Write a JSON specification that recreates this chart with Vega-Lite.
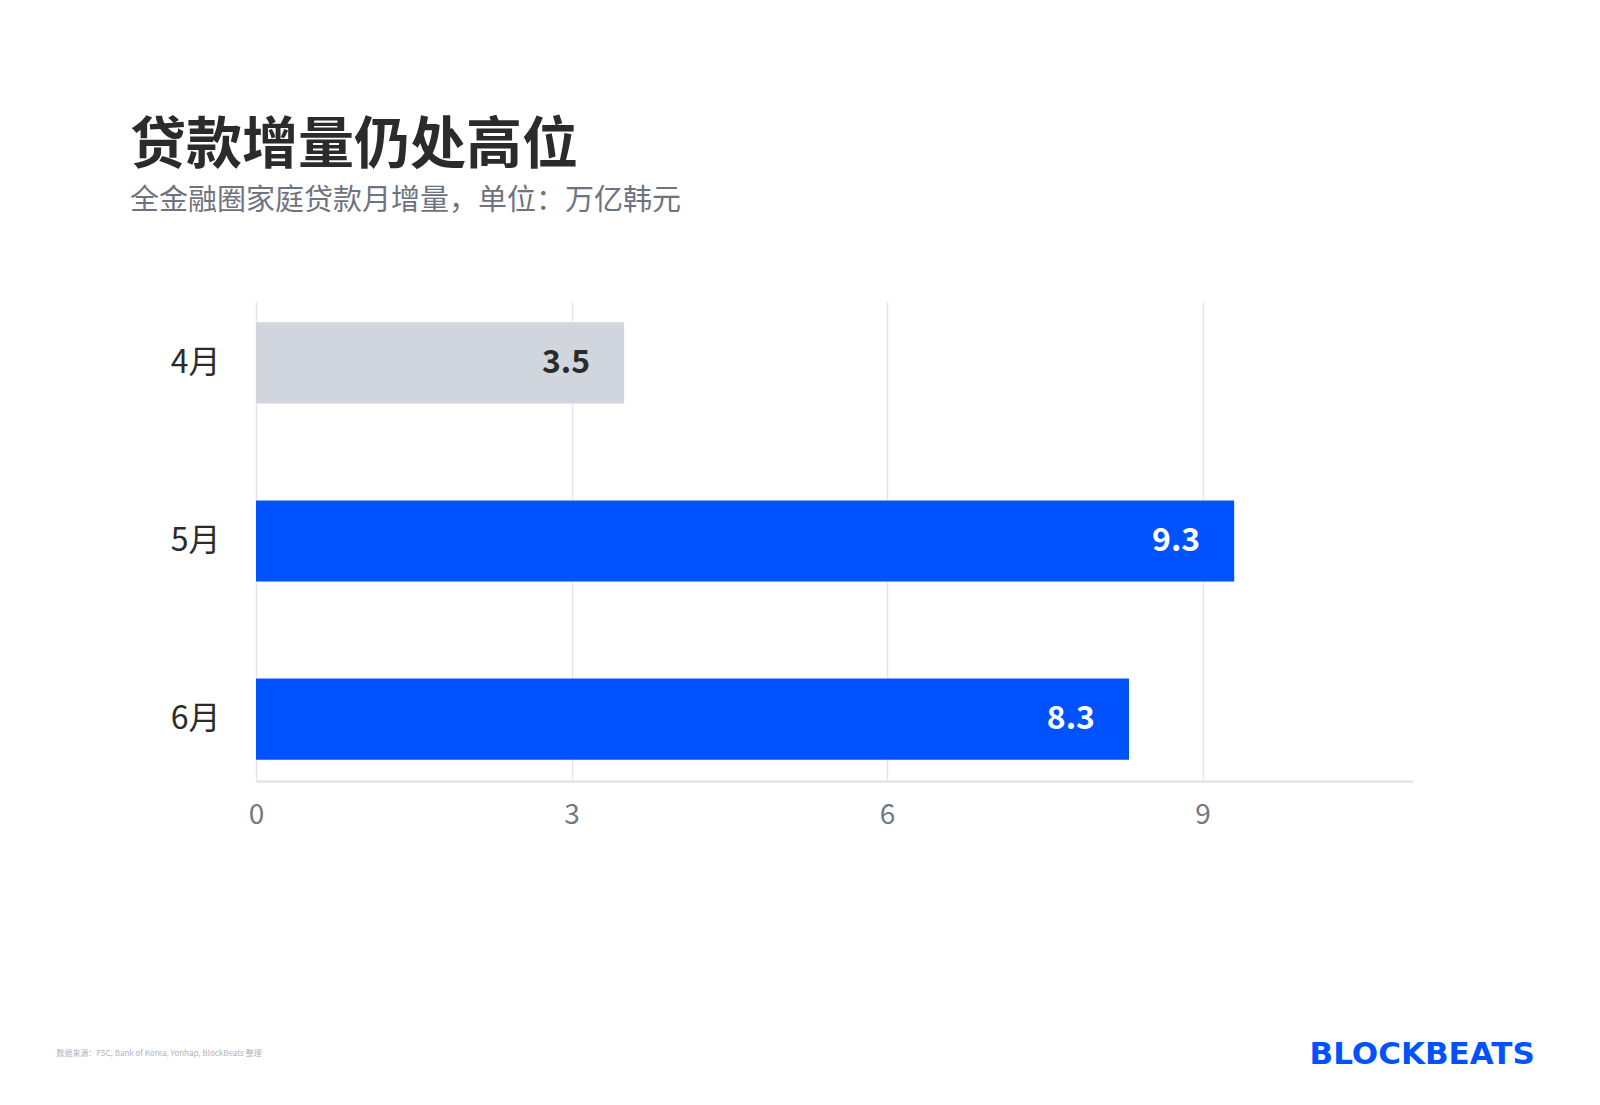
{
  "$schema": "https://vega.github.io/schema/vega-lite/v6.json",
  "autosize": "none",
  "width": 1157,
  "height": 480,
  "padding": {"left": 256, "top": 301, "right": 187, "bottom": 324},
  "background": "white",
  "config": {
    "font": "Noto Sans CJK SC",
    "view": {"stroke": null}
  },
  "title": {
    "text": "贷款增量仍处高位",
    "subtitle": "全金融圈家庭贷款月增量，单位：万亿韩元",
    "anchor": "start",
    "frame": "group",
    "dx": -126,
    "offset": 84,
    "fontSize": 56,
    "fontWeight": "bold",
    "color": "#2b2b2b",
    "subtitleFontSize": 29,
    "subtitleColor": "#6e7380",
    "subtitlePadding": 12
  },
  "data": {
    "values": [
      {"月份": "4月", "增量": 3.5},
      {"月份": "5月", "增量": 9.3},
      {"月份": "6月", "增量": 8.3}
    ]
  },
  "encoding": {
    "y": {
      "field": "月份",
      "type": "nominal",
      "sort": ["4月", "5月", "6月"],
      "scale": {"paddingInner": 0.545, "paddingOuter": 0.12},
      "axis": {
        "title": "BLOCKBEATS",
        "titleAngle": 0,
        "titleX": 1053,
        "titleY": 762,
        "titleAlign": "left",
        "titleBaseline": "alphabetic",
        "titleFont": "DejaVu Sans",
        "titleFontSize": 31,
        "titleFontWeight": "bold",
        "titleColor": "#0052ff",
        "titleLimit": 400,
        "domain": false,
        "ticks": false,
        "labelFontSize": 32,
        "labelColor": "#2b2b2b",
        "labelPadding": 36
      }
    },
    "x": {
      "field": "增量",
      "type": "quantitative",
      "scale": {"domain": [0, 11], "nice": false},
      "axis": {
        "values": [0, 3, 6, 9],
        "title": "数据来源：FSC, Bank of Korea, Yonhap, BlockBeats 整理",
        "titleX": -200,
        "titleY": 274,
        "titleAlign": "left",
        "titleBaseline": "alphabetic",
        "titleFontSize": 8,
        "titleFontWeight": "normal",
        "titleColor": "#b0b3ba",
        "grid": true,
        "gridColor": "#e6e6e9",
        "gridWidth": 1.5,
        "domainColor": "#e3e4ea",
        "domainWidth": 2.5,
        "ticks": false,
        "labelFontSize": 28,
        "labelColor": "#737885",
        "labelPadding": 20,
        "labelFlush": false
      }
    }
  },
  "layer": [
    {
      "mark": {"type": "bar"},
      "encoding": {
        "color": {
          "field": "月份",
          "type": "nominal",
          "scale": {"domain": ["4月", "5月", "6月"], "range": ["#d1d5de", "#0052ff", "#0052ff"]},
          "legend": null
        }
      }
    },
    {
      "mark": {"type": "text", "align": "right", "dx": -34, "fontSize": 32, "fontWeight": "bold", "baseline": "middle"},
      "encoding": {
        "text": {"field": "增量", "type": "quantitative", "format": ".1f"},
        "color": {
          "condition": {"test": "datum['月份'] === '4月'", "value": "#2b2b2b"},
          "value": "#ffffff"
        }
      }
    }
  ]
}
